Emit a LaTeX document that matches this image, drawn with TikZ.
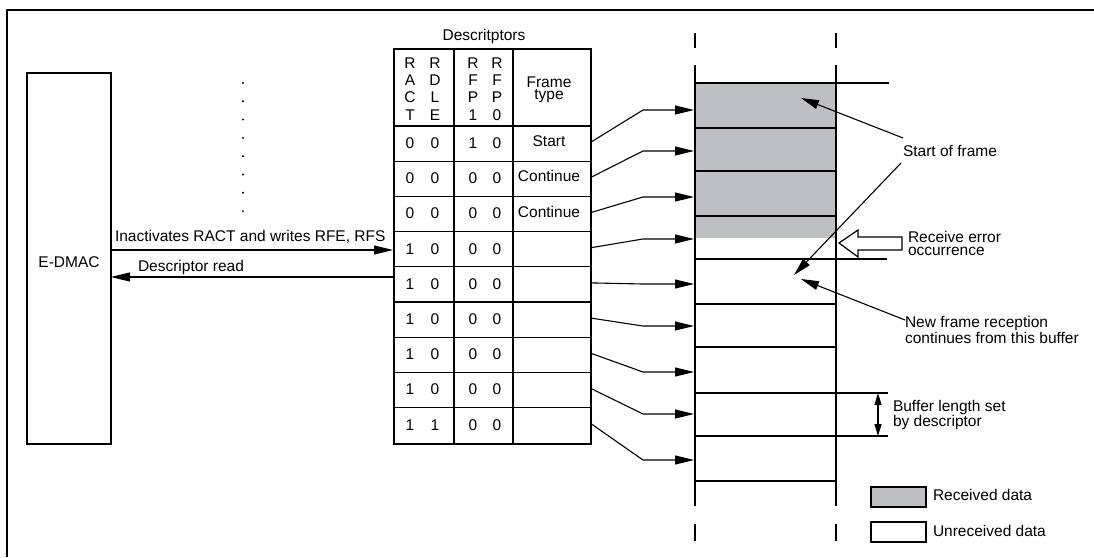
\documentclass[tikz,border=0pt]{standalone}
\usepackage{fontspec}
\setmainfont{Liberation Sans}
\usetikzlibrary{arrows.meta,calc}
\definecolor{recvgray}{RGB}{190,191,195}
\tikzset{
  txt/.style={font=\fontsize{15.5}{15.5}\selectfont, inner sep=0pt, outer sep=0pt},
  frameln/.style={line width=2.5pt},
  boxln/.style={line width=2.2pt},
  cellln/.style={line width=1.3pt},
  bufln/.style={line width=2.6pt},
  thinln/.style={line width=1.3pt},
  conn/.style={line width=1.1pt, -{Triangle[length=19pt,width=9pt]}},
  pointer/.style={line width=1.1pt, -{Triangle[length=18pt,width=9pt]}},
  smallarr/.style={line width=1.2pt, {Triangle[length=12pt,width=7pt]}-{Triangle[length=12pt,width=7pt]}},
}
\begin{document}
\begin{tikzpicture}[x=1pt,y=-1pt]
\useasboundingbox (0,0) rectangle (1094,557);
% outer frame
\draw[frameln] (7,557) -- (7,10) -- (1094,10);

% E-DMAC
\node[draw, boxln, minimum width=84pt, minimum height=371pt, inner sep=0pt, anchor=north west, txt] (edmac) at (27,73) {};
\node[txt] (edmaclabel) at (69,262) {E-DMAC};

% dots
\foreach \k in {0,...,7} {
  \fill (243,{83+18.3*\k}) circle (1.1pt);
}

% Descriptor table
\node[txt, anchor=base] (desctitle) at (484,40) {Descritptors};
\node[draw, boxln, minimum width=197pt, minimum height=395pt, inner sep=0pt, anchor=north west] (desc) at (393,48) {};
\draw[cellln] (454,48) -- (454,443);
\draw[cellln] (513,48) -- (513,443);
\foreach \k in {0,...,8} {
  \draw[cellln] (393,{126+35.2*\k}) -- (590,{126+35.2*\k});
}
% header letters
\foreach \lt [count=\r] in {R,A,C,T} { \node[txt] (ha\r) at (410,{63+17.3*(\r-1)}) {\lt}; }
\foreach \lt [count=\r] in {R,D,L,E} { \node[txt] (hb\r) at (435,{63+17.3*(\r-1)}) {\lt}; }
\foreach \lt [count=\r] in {R,F,P,1} { \node[txt] (hc\r) at (473,{63+17.3*(\r-1)}) {\lt}; }
\foreach \lt [count=\r] in {R,F,P,0} { \node[txt] (hd\r) at (497,{63+17.3*(\r-1)}) {\lt}; }
\node[txt, align=center, font=\fontsize{15.5}{12.2}\selectfont, anchor=base] (hft) at (549,99.5) {Frame\\type};

% rows
\foreach \a/\b/\c/\d/\t [count=\i] in {0/0/1/0/Start,0/0/0/0/Continue,0/0/0/0/Continue,1/0/0/0/,1/0/0/0/,1/0/0/0/,1/0/0/0/,1/0/0/0/,1/1/0/0/} {
  \pgfmathsetmacro{\yc}{126+35.2*(\i-0.5)-0.5}
  \node[txt] (ra\i) at (410,\yc) {\a};
  \node[txt] (rb\i) at (435,\yc) {\b};
  \node[txt] (rc\i) at (473,\yc) {\c};
  \node[txt] (rd\i) at (497,\yc) {\d};
  \node[txt] (rt\i) at (549,\yc-2) {\t};
  \coordinate (r\i) at (591,{126+35.2*(\i-0.5)-1.5});
}

% E-DMAC arrows
\draw[conn] (edmac.east |- 0,250) -- (desc.west |- 0,250);
\node[txt, anchor=base west] (lblwrite) at (115,241.5) {Inactivates RACT and writes RFE, RFS};
\draw[conn] (desc.west |- 0,277) -- (edmac.east |- 0,277);
\node[txt, anchor=base west] (lblread) at (138,271.7) {Descriptor read};

% Buffers
\fill[recvgray] (695,83) rectangle (836,238);
\draw[thinln] (695,83) -- (889,83);
\foreach \yy in {128,171,216,304,347,481} { \draw[thinln] (695,\yy) -- (836,\yy); }
\draw[thinln] (695,259) -- (887,259);
\draw[thinln] (695,393) -- (888,393);
\draw[thinln] (695,436) -- (888,436);
\foreach \xx in {695,836} {
  \draw[bufln] (\xx,33) -- (\xx,48);
  \draw[bufln] (\xx,65) -- (\xx,506);
  \draw[bufln] (\xx,524) -- (\xx,541);
}

% connectors from descriptors to buffers
\foreach \yb [count=\i] in {110,151,197,239,284,326,372,414,460} {
  \coordinate (b\i) at (694,\yb);
  \draw[conn] (r\i) -- (643,\yb) -- (b\i);
}

% Start of frame
\node[txt, anchor=base west] (sof) at (903,156.7) {Start of frame};
\coordinate (sofa) at (903,138);
\coordinate (sofb) at (901,163);
\coordinate (softa) at (801,98);
\coordinate (softb) at (794,275);
\draw[pointer] (sofa) -- (softa);
\draw[pointer] (sofb) -- (softb);

% Receive error hollow arrow
\draw[line width=1.2pt, fill=white] (839,243) -- (858,230) -- (858,237) -- (902,237) -- (902,250) -- (858,250) -- (858,257) -- cycle;
\node[txt, align=left, font=\fontsize{15.5}{13.2}\selectfont, anchor=base west] (rerr) at (908,255.5) {Receive error\\occurrence};

% New frame reception
\coordinate (nfa) at (905,320);
\coordinate (nft) at (801,279);
\draw[pointer] (nfa) -- (nft);
\node[txt, align=left, font=\fontsize{15.5}{12.3}\selectfont, anchor=base west] (nf) at (905,343.3) {New frame reception\\continues from this buffer};

% Buffer length
\coordinate (bla) at (878,393);
\coordinate (blb) at (878,436);
\draw[smallarr] (bla) -- (blb);
\node[txt, align=left, font=\fontsize{15.5}{12.4}\selectfont, anchor=base west] (bl) at (893,426.7) {Buffer length set\\by descriptor};

% Legend
\draw[boxln, fill=recvgray] (871,487) rectangle (926,507);
\node[txt, anchor=base west] (leg1) at (933,500.7) {Received data};
\draw[boxln, fill=white] (871,522) rectangle (926,542);
\node[txt, anchor=base west] (leg2) at (933,536) {Unreceived data};
\end{tikzpicture}
\end{document}
